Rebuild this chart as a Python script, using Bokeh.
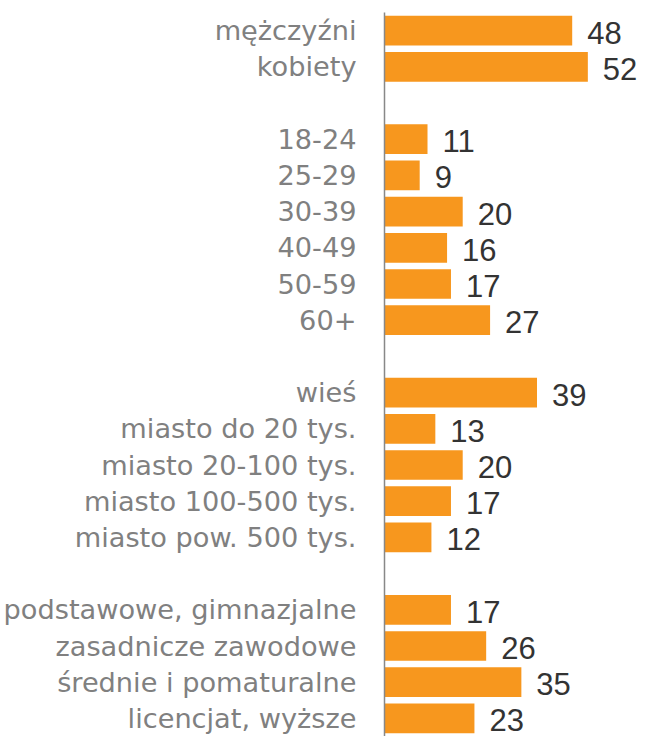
from bokeh.plotting import figure
from bokeh.models import FactorRange, Range1d, ColumnDataSource
from bokeh.core.properties import value
from bokeh.embed import file_html
from bokeh.resources import INLINE

# ---- data ----
gender = ["mężczyźni", "kobiety"]
gender_vals = [48, 52]
age = ["18-24", "25-29", "30-39", "40-49", "50-59", "60+"]
age_vals = [11, 9, 20, 16, 17, 27]
place = ["wieś", "miasto do 20 tys.", "miasto 20-100 tys.",
         "miasto 100-500 tys.", "miasto pow. 500 tys."]
place_vals = [39, 13, 20, 17, 12]
edu = ["podstawowe, gimnazjalne", "zasadnicze zawodowe",
       "średnie i pomaturalne", "licencjat, wyższe"]
edu_vals = [17, 26, 35, 23]

groups = [(gender, gender_vals), (age, age_vals), (place, place_vals), (edu, edu_vals)]

factors = []
cats, vals = [], []
for gi, (c, v) in enumerate(groups):
    if gi > 0:
        factors.append(" " * gi)  # spacer row
    factors.extend(c)
    cats.extend(c)
    vals.extend(v)

src = ColumnDataSource(dict(cat=cats, val=vals, lbl=[str(v) for v in vals]))

p = figure(width=646, height=736,
           y_range=FactorRange(factors=factors[::-1], range_padding=0),
           x_range=Range1d(0, 67),
           x_axis_location=None,
           output_backend="svg", toolbar_location=None,
           min_border_left=0, min_border_right=0,
           min_border_top=12, min_border_bottom=0)

p.hbar(y="cat", left=0, right="val", height=0.82, source=src,
       fill_color="#F7971E", line_color=None)

p.text(x="val", y="cat", text="lbl", source=src,
       x_offset=15, y_offset=2, text_baseline="alphabetic",
       text_font=value("Liberation Sans"), text_font_size="31px",
       text_color="#333333")

ax = p.yaxis[0]
ax.major_tick_line_color = None
ax.minor_tick_line_color = None
ax.major_tick_out = 0
ax.major_tick_in = 0
ax.major_label_standoff = 28
ax.axis_line_color = "#888888"
ax.axis_line_width = 1.5
ax.major_label_text_font = "DejaVu Sans"
ax.major_label_text_font_size = "27.2px"
ax.major_label_text_color = "#808080"

p.xgrid.visible = False
p.ygrid.visible = False
p.outline_line_color = None

open("out.html", "w").write(file_html(p, INLINE))
